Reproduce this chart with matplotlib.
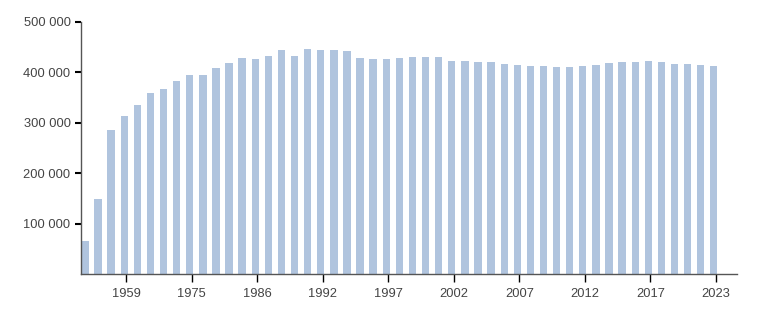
import matplotlib
matplotlib.use("Agg")
import matplotlib.pyplot as plt
from matplotlib.ticker import FuncFormatter

# ── Data ───────────────────────────────────────────────────────
years = [1939, 1950, 1956, 1959, 1962, 1967, 1970, 1973, 1975, 1976,
         1979, 1982, 1985, 1986, 1987, 1989, 1990, 1991, 1992, 1993,
         1994, 1995, 1996, 1997, 1998, 1999, 2000, 2001, 2002, 2003,
         2004, 2005, 2006, 2007, 2008, 2009, 2010, 2011, 2012, 2013,
         2014, 2015, 2016, 2017, 2018, 2019, 2020, 2021, 2023]
population = [66000, 148000, 286000, 313500, 335500, 360000, 367000, 382500, 395000, 395000,
              408500, 419500, 428500, 426500, 432500, 443500, 432500, 447000, 443500, 443500,
              441500, 428500, 427000, 427000, 429000, 431000, 431000, 431000, 421700, 421700,
              419700, 419700, 416500, 414500, 412500, 412500, 410500, 410500, 412500, 414500,
              418500, 419700, 419700, 421700, 419700, 416500, 416500, 414500, 412500]
shown_years = [1959, 1975, 1986, 1992, 1997, 2002, 2007, 2012, 2017, 2023]
y_ticks = [100000, 200000, 300000, 400000, 500000]
# ───────────────────────────────────────────────────────────────

plt.rcParams["font.family"] = ["Liberation Sans", "DejaVu Sans"]

fig = plt.figure(figsize=(7.58, 3.10), dpi=100)
ax = fig.add_axes([81 / 758, 1 - 274 / 310, (737 - 81) / 758, (274 - 22) / 310])

x = list(range(len(years)))
ax.bar(x, population, width=0.56, color="#b0c4de", edgecolor="none")

ax.set_xlim(-0.3, len(years) + 0.77)
ax.set_ylim(0, 500000)

# ticks sit slightly right of the bar centres, like the source chart
tick_pos = [years.index(y) + 0.16 for y in shown_years]
ax.set_xticks(tick_pos)
ax.set_xticklabels([str(y) for y in shown_years])
ax.set_yticks(y_ticks)
ax.yaxis.set_major_formatter(FuncFormatter(lambda v, p: f"{int(v):,}".replace(",", " ")))

for side in ["top", "right"]:
    ax.spines[side].set_visible(False)
for side in ["left", "bottom"]:
    ax.spines[side].set_color("#555555")
    ax.spines[side].set_linewidth(1.0)

ax.tick_params(axis="y", length=4.5, width=1.5, color="#000000", labelsize=9.3,
               labelcolor="#444444", pad=3)
ax.tick_params(axis="x", length=6, width=1.0, color="#000000", labelsize=9.3,
               labelcolor="#444444", pad=4)

fig.savefig("out.png", dpi=100)
